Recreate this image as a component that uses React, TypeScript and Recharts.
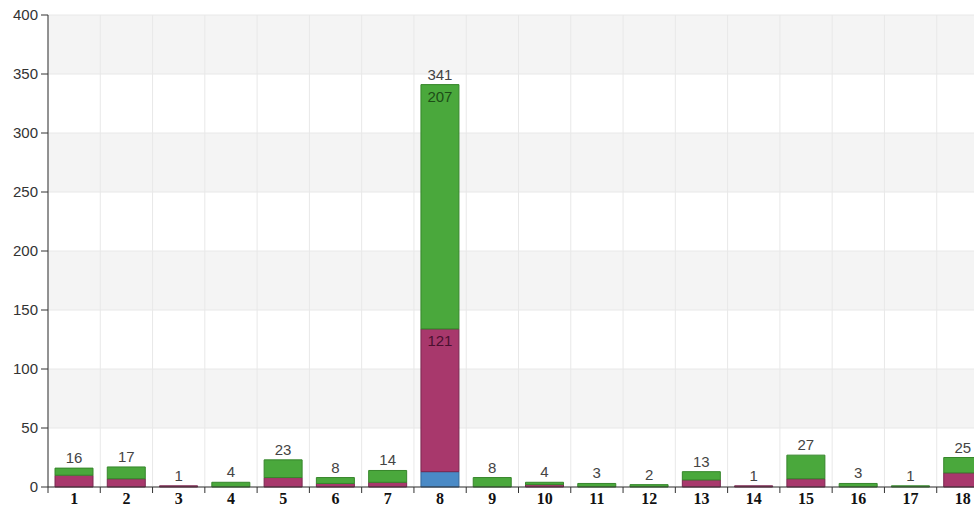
import { BarChart, Bar, XAxis, YAxis, CartesianGrid, LabelList } from "recharts";

const categories = ["1", "2", "3", "4", "5", "6", "7", "8", "9", "10", "11", "12", "13", "14", "15", "16", "17", "18"];
const blueValues = [0, 0, 0, 0, 0, 0, 0, 13, 0, 0, 0, 0, 0, 0, 0, 0, 0, 0];
const magentaValues = [10, 7, 1, 0, 8, 3, 4, 121, 0, 2, 0, 0, 6, 1, 7, 0, 0, 12];
const greenValues = [6, 10, 0, 4, 15, 5, 10, 207, 8, 2, 3, 2, 7, 0, 20, 3, 1, 13];
const yTicks = [0, 50, 100, 150, 200, 250, 300, 350, 400];

const data = categories.map((name, i) => ({
  name,
  blue: blueValues[i],
  magenta: magentaValues[i],
  green: greenValues[i],
  total: blueValues[i] + magentaValues[i] + greenValues[i],
}));

const CHART_W = 990;
const CHART_H = 508;
const MARGIN = { top: 15, right: 1, left: 0, bottom: 0 };
const Y_W = 48;
const X_H = 21;
const plotW = CHART_W - Y_W - MARGIN.left - MARGIN.right;
const bandW = plotW / categories.length;

const labelFont = "'Liberation Sans', Arial, sans-serif";

function XTick({ x, y, payload }: any) {
  return (
    <g>
      <line x1={x - bandW / 2} x2={x - bandW / 2} y1={y} y2={y + 6} stroke="#333" />
      <text x={x} y={y + 17} textAnchor="middle" fill="#111" fontFamily="'Liberation Serif', 'Times New Roman', serif" fontWeight="bold" fontSize={16}>
        {payload.value}
      </text>
    </g>
  );
}

function TotalLabel({ x, y, width, value }: any) {
  return (
    <text x={x + width / 2} y={y - 5} textAnchor="middle" fill="#444" fontFamily={labelFont} fontSize={15}>
      {value}
    </text>
  );
}

const segmentLabel = (color: string) => ({ x, y, width, value }: any) =>
  value >= 100 ? (
    <text x={x + width / 2} y={y + 17} textAnchor="middle" fill={color} fontFamily={labelFont} fontSize={15}>
      {value}
    </text>
  ) : null;

export default function App() {
  return (
    <div style={{ position: "absolute", left: 0, top: 0, width: 974, height: 508, overflow: "hidden", background: "#fff" }}>
      <BarChart width={CHART_W} height={CHART_H} data={data} margin={MARGIN} barSize={38}>
        <CartesianGrid
          stroke="#e8e8e8"
          horizontalFill={["#f4f4f4", "#ffffff"]}
          verticalCoordinatesGenerator={({ offset }: any) =>
            categories.map((_, i) => offset.left + i * bandW)
          }
        />
        <XAxis
          dataKey="name"
          height={X_H}
          tickSize={0}
          tickMargin={0}
          tick={<XTick />}
          axisLine={{ stroke: "#333" }}
          interval={0}
        />
        <XAxis xAxisId="totals" dataKey="name" hide />
        <YAxis
          width={Y_W}
          domain={[0, 400]}
          ticks={yTicks}
          tickSize={7}
          tickMargin={3}
          axisLine={{ stroke: "#333" }}
          tickLine={{ stroke: "#333" }}
          tick={{ fill: "#333", fontSize: 15, fontFamily: labelFont }}
        />
        <Bar dataKey="blue" stackId="a" fill="#4a8ac6" stroke="#35689a" isAnimationActive={false} />
        <Bar dataKey="magenta" stackId="a" fill="#a8386c" stroke="#7a2850" isAnimationActive={false}>
          <LabelList dataKey="magenta" content={segmentLabel("#4a1030")} />
        </Bar>
        <Bar dataKey="green" stackId="a" fill="#4aa83c" stroke="#36862b" isAnimationActive={false}>
          <LabelList dataKey="green" content={segmentLabel("#1d4d17")} />
        </Bar>
        <Bar xAxisId="totals" dataKey="total" fill="none" stroke="none" isAnimationActive={false}>
          <LabelList dataKey="total" content={<TotalLabel />} />
        </Bar>
      </BarChart>
    </div>
  );
}
